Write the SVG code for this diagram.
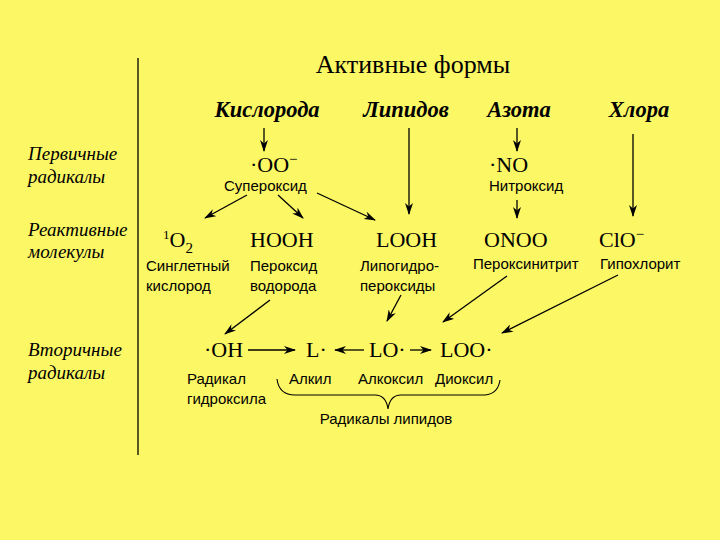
<svg xmlns="http://www.w3.org/2000/svg" width="720" height="540" viewBox="0 0 720 540">
<defs>
<marker id="ah" viewBox="0 0 12 8" refX="11" refY="4" markerWidth="12" markerHeight="8" markerUnits="userSpaceOnUse" orient="auto">
<path d="M0,0 L12,4 L0,8 L3.5,4 z" fill="#000"/>
</marker>
<style>
.title{font-family:"Liberation Serif",serif;font-size:26px;fill:#000}
.hdr{font-family:"Liberation Serif",serif;font-size:22.5px;font-weight:bold;font-style:italic;fill:#000}
.side{font-family:"Liberation Serif",serif;font-size:19px;font-style:italic;fill:#000}
.f{font-family:"Liberation Serif",serif;font-size:22px;fill:#000}
.lb{font-family:"Liberation Sans",sans-serif;font-size:15px;fill:#000}
.c{stroke:#000;stroke-width:1.3;fill:none;marker-end:url(#ah)}
</style>
</defs>
<rect width="720" height="540" fill="#FBF765"/>
<line x1="138" y1="58" x2="138" y2="455" stroke="#000" stroke-width="1.3"/>
<text class="title" x="413" y="73" text-anchor="middle">Активные формы</text>
<g id="headers">
<text class="hdr" x="267" y="117" text-anchor="middle">Кислорода</text>
<text class="hdr" x="406" y="117" text-anchor="middle">Липидов</text>
<text class="hdr" x="519" y="117" text-anchor="middle">Азота</text>
<text class="hdr" x="639" y="117" text-anchor="middle">Хлора</text>
</g>
<g id="rows">
<text class="side" x="28" y="160">Первичные</text>
<text class="side" x="28" y="183">радикалы</text>
<text class="side" x="28" y="236">Реактивные</text>
<text class="side" x="28" y="258">молекулы</text>
<text class="side" x="28" y="356">Вторичные</text>
<text class="side" x="28" y="379">радикалы</text>
</g>
<g id="superoxide">
<text class="f" x="250" y="172">·OO<tspan font-size="15" dy="-8">−</tspan></text>
<text class="lb" x="224" y="191">Супероксид</text>
</g>
<g id="nitroxide">
<text class="f" x="489" y="172">·NO</text>
<text class="lb" x="489" y="191">Нитроксид</text>
</g>
<g id="singlet">
<text class="f" x="163" y="247"><tspan font-size="13" dy="-8">1</tspan><tspan dy="8">O</tspan><tspan font-size="15" dy="6">2</tspan></text>
<text class="lb" x="146" y="271">Синглетный</text>
<text class="lb" x="146" y="291">кислород</text>
</g>
<g id="hooh">
<text class="f" x="250" y="247">HOOH</text>
<text class="lb" x="250" y="271">Пероксид</text>
<text class="lb" x="250" y="291">водорода</text>
</g>
<g id="looh">
<text class="f" x="376" y="247">LOOH</text>
<text class="lb" x="360" y="271">Липогидро-</text>
<text class="lb" x="360" y="291">пероксиды</text>
</g>
<g id="onoo">
<text class="f" x="484" y="247">ONOO</text>
<text class="lb" x="473" y="269">Пероксинитрит</text>
</g>
<g id="clo">
<text class="f" x="599" y="247">ClO<tspan font-size="15" dy="-8">−</tspan></text>
<text class="lb" x="600" y="269">Гипохлорит</text>
</g>
<g id="oh">
<text class="f" x="204" y="357">·OH</text>
<text class="lb" x="187" y="384">Радикал</text>
<text class="lb" x="187" y="404">гидроксила</text>
</g>
<g id="l">
<text class="f" x="306" y="357">L·</text>
<text class="lb" x="289" y="384">Алкил</text>
</g>
<g id="lo">
<text class="f" x="369" y="357">LO·</text>
<text class="lb" x="358" y="384">Алкоксил</text>
</g>
<g id="loo">
<text class="f" x="440" y="357">LOO·</text>
<text class="lb" x="435" y="384">Диоксил</text>
</g>
<g id="lipid-radicals">
<path d="M277,379 Q279,395 295,395 L375,395 Q386,395 388,409 Q390,395 401,395 L485,395 Q498,394 500,380" stroke="#000" stroke-width="1.1" fill="none"/>
<text class="lb" x="386" y="424" text-anchor="middle">Радикалы липидов</text>
</g>
<g id="connectors">
<line class="c" x1="264" y1="128" x2="264" y2="151"/>
<line class="c" x1="517" y1="128" x2="517" y2="151"/>
<line class="c" x1="409" y1="128" x2="409" y2="214"/>
<line class="c" x1="633" y1="134" x2="633" y2="216"/>
<line class="c" x1="517" y1="200" x2="517" y2="218"/>
<line class="c" x1="247" y1="195" x2="205" y2="218"/>
<line class="c" x1="278" y1="195" x2="303" y2="218"/>
<line class="c" x1="317" y1="193" x2="375" y2="220"/>
<line class="c" x1="270" y1="300" x2="225" y2="334"/>
<line class="c" x1="401" y1="295" x2="387" y2="321"/>
<line class="c" x1="507" y1="276" x2="443" y2="322"/>
<line class="c" x1="618" y1="275" x2="502" y2="333"/>
<line class="c" x1="248" y1="350" x2="295" y2="350"/>
<line class="c" x1="364" y1="350" x2="335" y2="350"/>
<line class="c" x1="410" y1="350" x2="431" y2="350"/>
</g>
</svg>
